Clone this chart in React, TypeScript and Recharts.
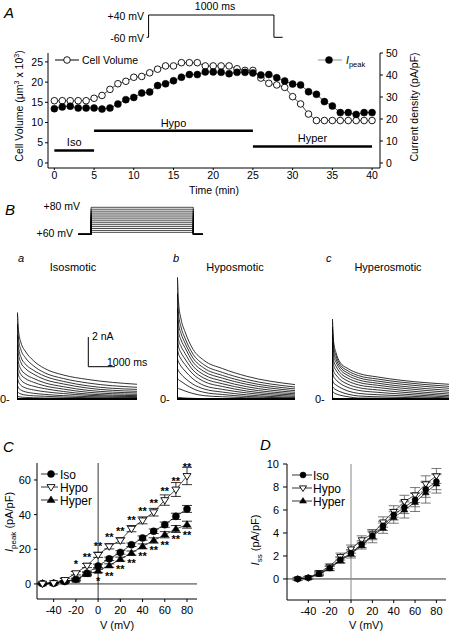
import { ComposedChart, LineChart, Line, XAxis, YAxis, ReferenceLine, ErrorBar, LabelList } from 'recharts';

const FONT = '"Liberation Sans", Arial, sans-serif';

// panel A: time course
const minutes = [0, 1, 2, 3, 4, 5, 6, 7, 8, 9, 10, 11, 12, 13, 14, 15, 16, 17, 18, 19, 20,
    21, 22, 23, 24, 25, 26, 27, 28, 29, 30, 31, 32, 33, 34, 35, 36, 37, 38, 39, 40];
const cellVolume = [15.4, 15.4, 15.4, 15.4, 15.4, 16.0, 16.7, 18.2, 19.6, 20.2, 21.2, 21.4, 22.3, 23.2,
    24.0, 24.0, 24.8, 24.8, 24.8, 24.0, 24.0, 24.0, 24.0, 23.3, 22.9, 22.9, 21.0, 19.7, 19.3, 18.7,
    16.4, 14.6, 12.1, 10.5, 10.5, 10.5, 10.5, 10.5, 10.5, 10.5, 10.5];
const peakDensity = [24.7, 25.5, 25.8, 25.0, 25.0, 25.0, 24.5, 25.0, 26.8, 28.8, 29.8, 31.8, 32.3, 35.2,
    36.0, 37.4, 39.0, 40.2, 40.2, 41.4, 41.4, 41.2, 40.6, 41.2, 41.2, 40.9, 40.0, 40.2, 38.8, 37.3,
    35.9, 35.5, 32.4, 31.2, 27.9, 25.9, 22.9, 22.9, 22.1, 22.9, 22.9];
const periodNames = ['Iso', 'Hypo', 'Hyper'];
const periodStart = [0, 5, 25];
const periodEnd = [5, 25, 40];
const periodLevel = [3.1, 8.0, 4.1];

// voltage protocols
const pulseATime = [-15, 0, 0, 1000, 1000, 1070];
const pulseAVolt = [-60, -60, 40, 40, -60, -60];
const pulseBTime = [-500, 0, 0, 4000, 4000, 4380];
const pulseBInStep = [false, false, true, true, false, false];
const holdingV = -60;
const stepLevels = [-50, -40, -30, -20, -10, 0, 10, 20, 30, 40, 50, 60, 70, 80];

// current traces (nA), sampled at traceTime (s)
const traceTime = [0, 0.01, 0.06, 0.15, 0.3, 0.6, 1.0, 1.7, 2.6, 4.4];
const isoTraces = [
    [0, 5.4, 4.2, 3.5, 3.0, 2.4, 1.92, 1.5, 1.22, 0.92],
    [0, 4.7, 3.7, 3.05, 2.6, 2.08, 1.65, 1.28, 1.0, 0.73],
    [0, 4.0, 3.2, 2.6, 2.2, 1.8, 1.44, 1.1, 0.82, 0.6],
    [0, 3.4, 2.75, 2.25, 1.92, 1.56, 1.23, 0.94, 0.68, 0.48],
    [0, 2.8, 2.25, 1.85, 1.57, 1.29, 1.02, 0.77, 0.54, 0.38],
    [0, 2.3, 1.85, 1.52, 1.29, 1.05, 0.83, 0.62, 0.42, 0.29],
    [0, 1.8, 1.45, 1.18, 0.98, 0.8, 0.65, 0.47, 0.31, 0.21],
    [0, 1.3, 1.05, 0.85, 0.7, 0.57, 0.46, 0.34, 0.23, 0.15],
    [0, 0.85, 0.68, 0.55, 0.45, 0.36, 0.29, 0.21, 0.15, 0.1],
    [0, 0.45, 0.38, 0.31, 0.25, 0.2, 0.17, 0.12, 0.08, 0.06],
    [0, 0.18, 0.15, 0.12, 0.1, 0.08, 0.06, 0.05, 0.04, 0.02],
    [0, 0.05, 0.04, 0.03, 0.02, 0.01, 0, 0, 0, 0],
];
const hypoTraces = [
    [0, 7.6, 6.0, 5.0, 4.2, 3.1, 2.42, 1.9, 1.42, 0.9],
    [0, 6.6, 5.3, 4.5, 3.8, 2.8, 2.15, 1.66, 1.22, 0.75],
    [0, 5.7, 4.7, 4.1, 3.5, 2.55, 1.94, 1.47, 1.06, 0.63],
    [0, 5.0, 4.2, 3.7, 3.2, 2.3, 1.73, 1.3, 0.92, 0.52],
    [0, 4.3, 3.7, 3.3, 2.85, 2.05, 1.52, 1.12, 0.77, 0.42],
    [0, 3.7, 3.25, 2.9, 2.5, 1.8, 1.31, 0.95, 0.63, 0.33],
    [0, 3.1, 2.8, 2.5, 2.15, 1.55, 1.1, 0.78, 0.5, 0.25],
    [0, 2.5, 2.3, 2.05, 1.75, 1.25, 0.85, 0.6, 0.38, 0.17],
    [0, 1.9, 1.75, 1.55, 1.3, 0.92, 0.63, 0.43, 0.26, 0.1],
    [0, 1.3, 1.2, 1.1, 0.93, 0.64, 0.42, 0.28, 0.16, 0.06],
    [0, 0.7, 0.65, 0.6, 0.5, 0.34, 0.21, 0.14, 0.08, 0.02],
    [0, 0.1, 0.1, 0.08, 0.06, 0.04, 0.02, 0.01, 0, 0],
];
const hyperTraces = [
    [0, 5.0, 3.6, 2.9, 2.3, 1.9, 1.6, 1.38, 1.17, 0.92],
    [0, 4.5, 3.3, 2.7, 2.17, 1.76, 1.46, 1.25, 1.05, 0.79],
    [0, 4.0, 3.0, 2.5, 2.02, 1.62, 1.33, 1.12, 0.93, 0.67],
    [0, 3.5, 2.7, 2.3, 1.86, 1.47, 1.19, 0.99, 0.8, 0.54],
    [0, 3.0, 2.4, 2.05, 1.66, 1.3, 1.04, 0.86, 0.68, 0.42],
    [0, 2.6, 2.1, 1.8, 1.46, 1.12, 0.88, 0.72, 0.55, 0.31],
    [0, 2.1, 1.75, 1.5, 1.22, 0.92, 0.71, 0.57, 0.43, 0.21],
    [0, 1.7, 1.4, 1.2, 0.98, 0.72, 0.54, 0.42, 0.31, 0.13],
    [0, 1.2, 1.0, 0.88, 0.72, 0.5, 0.35, 0.27, 0.2, 0.06],
    [0, 0.8, 0.68, 0.58, 0.46, 0.3, 0.19, 0.14, 0.1, 0.02],
    [0, 0.5, 0.4, 0.32, 0.24, 0.14, 0.06, 0.05, 0.04, 0],
    [0, 0.05, 0.04, 0.03, 0.02, 0.01, 0, 0, 0, 0],
];

// panels C and D: I-V relations
const voltages = [-50, -40, -30, -20, -10, 0, 10, 20, 30, 40, 50, 60, 70, 80];
const isoPeak = [0.2, 0.4, 1.4, 2.7, 6.2, 10.4, 14.5, 18.2, 22.6, 26.5, 30.4, 34.2, 39.0, 43.3];
const hypoPeak = [0.2, 0.5, 2.3, 6.2, 10.6, 16.8, 21.7, 25.1, 31.9, 36.7, 41.4, 48.4, 54.5, 62.3];
const hyperPeak = [0.2, 0.4, 1.4, 2.3, 5.6, 7.5, 10.6, 14.3, 17.8, 21.7, 25.1, 28.4, 31.7, 34.2];
const isoPeakErr = [0.3, 0.3, 0.5, 0.6, 0.8, 1.0, 1.0, 1.0, 1.0, 1.2, 1.3, 1.5, 1.8, 2.0];
const hypoPeakErr = [0.3, 0.4, 0.8, 1.0, 1.2, 1.5, 1.5, 1.6, 1.8, 2.0, 2.2, 3.0, 4.0, 5.0];
const hyperPeakErr = [0.3, 0.3, 0.5, 0.6, 0.8, 1.0, 1.0, 1.2, 1.2, 1.4, 1.5, 1.8, 2.0, 2.0];
const hypoSig = ['', '', '', '*', '**', '**', '**', '**', '**', '**', '**', '**', '**', '**'];
const hyperSig = ['', '', '', '', '', '*', '**', '**', '**', '**', '**', '**', '**', '**'];

const isoSS = [0, 0.1, 0.46, 0.95, 1.68, 2.25, 3.03, 3.76, 4.62, 5.58, 6.24, 6.88, 7.8, 8.47];
const hypoSS = [0, 0.1, 0.55, 1.1, 1.95, 2.6, 3.4, 3.9, 4.95, 5.87, 6.73, 7.3, 8.27, 8.96];
const hyperSS = [0, 0.1, 0.4, 0.9, 1.6, 2.17, 2.9, 3.7, 4.42, 5.35, 6.0, 6.67, 7.5, 8.27];
const isoSSErr = [0.1, 0.1, 0.15, 0.2, 0.25, 0.3, 0.3, 0.35, 0.4, 0.45, 0.55, 0.6, 0.7, 0.7];
const hypoSSErr = [0.1, 0.1, 0.15, 0.2, 0.3, 0.35, 0.35, 0.4, 0.45, 0.5, 0.55, 0.65, 0.7, 0.65];
const hyperSSErr = [0.1, 0.1, 0.12, 0.18, 0.25, 0.35, 0.3, 0.55, 0.45, 0.5, 0.7, 0.8, 0.9, 0.8];

const timeTable = minutes.map((t, i) => ({ t, vol: cellVolume[i], ipeak: peakDensity[i] }));
const pulseATable = pulseATime.map((t, i) => ({ t, v: pulseAVolt[i] }));
const pulseBTable = pulseBTime.map((t, i) => {
    const row: any = { t };
    stepLevels.forEach((lv, k) => { row[`v${k}`] = pulseBInStep[i] ? lv : holdingV; });
    return row;
});
const traceTable = (traces: number[][]) => traceTime.map((t, i) => {
    const row: any = { t };
    traces.forEach((tr, k) => { row[`s${k}`] = tr[i]; });
    return row;
});
const peakTable = voltages.map((v, i) => ({
    v, iso: isoPeak[i], hypo: hypoPeak[i], hyper: hyperPeak[i],
    isoErr: isoPeakErr[i], hypoErr: hypoPeakErr[i], hyperErr: hyperPeakErr[i],
    hypoSig: hypoSig[i], hyperSig: hyperSig[i],
}));
const ssTable = voltages.map((v, i) => ({
    v, iso: isoSS[i], hypo: hypoSS[i], hyper: hyperSS[i],
    isoErr: isoSSErr[i], hypoErr: hypoSSErr[i], hyperErr: hyperSSErr[i],
}));

// markers
const filledCircle = (r: number) => (p: any) =>
    <circle key={`fc${p.index}`} cx={p.cx} cy={p.cy} r={r} fill="#000" stroke="#000" strokeWidth={0.5} />;
const openCircle = (r: number) => (p: any) =>
    <circle key={`oc${p.index}`} cx={p.cx} cy={p.cy} r={r} fill="#fff" stroke="#000" strokeWidth={0.9} />;
const openDown = (s: number) => (p: any) =>
    <path key={`od${p.index}`} d={`M${p.cx - s},${p.cy - s * 0.6}L${p.cx + s},${p.cy - s * 0.6}L${p.cx},${p.cy + s}Z`}
        fill="#fff" stroke="#000" strokeWidth={0.9} />;
const filledUp = (s: number) => (p: any) =>
    <path key={`fu${p.index}`} d={`M${p.cx - s},${p.cy + s * 0.6}L${p.cx + s},${p.cy + s * 0.6}L${p.cx},${p.cy - s}Z`}
        fill="#000" stroke="#000" strokeWidth={0.5} />;

// significance stars, drawn in black
const star = (x: number, y: number, value: string, key: string) =>
    <text key={key} x={x} y={y} textAnchor="middle" fontSize={11} fontWeight={700}
        style={{ fill: '#000' }} fontFamily={FONT}>{value}</text>;
const sigAbove = (p: any) => p.value ? star(p.x, p.y - 5, p.value, `sa${p.index}`) : null;
const sigBelow = (p: any) => p.value ? star(p.x, p.y + 14, p.value, `sb${p.index}`) : null;

const tick = (size: number) => ({ fontSize: size, fill: '#000', fontFamily: FONT });
const at = (left: number, top: number): React.CSSProperties => ({ position: 'absolute', left, top });

function TracePanel({ traces, left, width }: { traces: number[][], left: number, width: number }) {
    return <div style={at(left, 271)}>
        <LineChart width={width} height={130} data={traceTable(traces)} margin={{ top: 0, right: 0, bottom: 0, left: 0 }}>
            <XAxis type="number" dataKey="t" domain={[0, 4.4]} hide />
            <YAxis type="number" domain={[-0.125, 8]} hide />
            <ReferenceLine y={0} stroke="#000" strokeWidth={1.8} />
            {traces.map((_, k) => (
                <Line key={k} dataKey={`s${k}`} type="monotone" stroke="#000" strokeWidth={0.8} dot={false} isAnimationActive={false} />
            ))}
        </LineChart>
    </div>;
}

function IVLegend({ x0, x1, xm, xt, ys, r, s }: { x0: number, x1: number, xm: number, xt: number, ys: number[], r: number, s: number }) {
    const labels = ['Iso', 'Hypo', 'Hyper'];
    return <g>
        {ys.map((y, i) => <line key={`l${i}`} x1={x0} x2={x1} y1={y} y2={y} stroke="#000" strokeWidth={0.8} />)}
        {filledCircle(r)({ cx: xm, cy: ys[0], index: 0 })}
        {openDown(s)({ cx: xm, cy: ys[1], index: 1 })}
        {filledUp(s)({ cx: xm, cy: ys[2], index: 2 })}
        {ys.map((y, i) => <text key={`t${i}`} x={xt} y={y + 4.5} fontSize={12}>{labels[i]}</text>)}
    </g>;
}

export default function App() {
    return <div style={{ position: 'absolute', left: 0, top: 0, width: 454, height: 632, background: '#fff', fontFamily: FONT }}>
        {/* A: protocol */}
        <div style={at(140, 10)}>
            <LineChart width={150} height={33} data={pulseATable} margin={{ top: 5, right: 7.3, bottom: 5.7, left: 6.7 }}>
                <XAxis type="number" dataKey="t" domain={[-15, 1070]} hide />
                <YAxis type="number" domain={[-60, 40]} hide />
                <Line dataKey="v" type="linear" stroke="#000" strokeWidth={1} dot={false} isAnimationActive={false} />
            </LineChart>
        </div>

        {/* A: time course */}
        <div style={at(0, 0)}>
            <ComposedChart width={454} height={200} data={timeTable} margin={{ top: 53, right: 34, bottom: 12, left: 8 }}>
                <XAxis type="number" dataKey="t" domain={[-0.8, 41]} ticks={[0, 5, 10, 15, 20, 25, 30, 35, 40]}
                    height={20} tickSize={2} tickMargin={2} stroke="#000" tick={tick(10.5)} />
                <YAxis yAxisId="vol" type="number" domain={[-1.24, 27.2]} ticks={[0, 5, 10, 15, 20, 25]}
                    width={40} tickSize={3} tickMargin={2} stroke="#000" tick={tick(10.5)} />
                <YAxis yAxisId="cur" orientation="right" type="number" domain={[-2.27, 50]} ticks={[0, 10, 20, 30, 40, 50]}
                    width={40} tickSize={3} tickMargin={3} stroke="#000" tick={tick(10.5)} />
                {periodNames.map((name, i) => (
                    <ReferenceLine key={name} yAxisId="vol" stroke="#000" strokeWidth={2.5}
                        segment={[{ x: periodStart[i], y: periodLevel[i] }, { x: periodEnd[i], y: periodLevel[i] }]}
                        label={{ value: name, position: 'top', offset: 4, fill: '#000', fontSize: 11, fontFamily: FONT }} />
                ))}
                <Line yAxisId="vol" dataKey="vol" stroke="#000" strokeWidth={0.7} dot={openCircle(3.3)} isAnimationActive={false} />
                <Line yAxisId="cur" dataKey="ipeak" stroke="#000" strokeWidth={0.7} dot={filledCircle(3.5)} isAnimationActive={false} />
            </ComposedChart>
        </div>

        {/* B: protocol */}
        <div style={at(72, 200)}>
            <LineChart width={138} height={40} data={pulseBTable} margin={{ top: 7.3, right: 7, bottom: 5.7, left: 6.3 }}>
                <XAxis type="number" dataKey="t" domain={[-500, 4380]} hide />
                <YAxis type="number" domain={[-60, 80]} hide />
                {stepLevels.map((_, k) => (
                    <Line key={k} dataKey={`v${k}`} type="linear" stroke="#000" strokeWidth={0.7} dot={false} isAnimationActive={false} />
                ))}
            </LineChart>
        </div>

        {/* B: current families */}
        <TracePanel traces={isoTraces} left={17} width={120} />
        <TracePanel traces={hypoTraces} left={177} width={118} />
        <TracePanel traces={hyperTraces} left={332} width={117} />

        {/* C: peak current density */}
        <div style={at(0, 420)}>
            <LineChart width={230} height={212} data={peakTable} margin={{ top: 43, right: 33, bottom: 13, left: 7 }}>
                <XAxis type="number" dataKey="v" domain={[-55, 89]} ticks={[-40, -20, 0, 20, 40, 60, 80]}
                    height={20} tickSize={3} tickMargin={4} stroke="#000" tick={tick(11)} />
                <YAxis type="number" domain={[-8.7, 69.8]} ticks={[0, 20, 40, 60]}
                    width={30} tickSize={3} tickMargin={3} stroke="#000" tick={tick(11)} />
                <ReferenceLine y={0} stroke="#000" strokeWidth={0.8} />
                <ReferenceLine x={0} stroke="#000" strokeWidth={0.8} />
                <Line dataKey="hyper" stroke="#000" strokeWidth={0.7} dot={filledUp(4)} isAnimationActive={false}>
                    <ErrorBar dataKey="hyperErr" width={5} stroke="#000" strokeWidth={0.8} direction="y" />
                    <LabelList dataKey="hyperSig" content={sigBelow} />
                </Line>
                <Line dataKey="iso" stroke="#000" strokeWidth={0.7} dot={filledCircle(3.5)} isAnimationActive={false}>
                    <ErrorBar dataKey="isoErr" width={5} stroke="#000" strokeWidth={0.8} direction="y" />
                </Line>
                <Line dataKey="hypo" stroke="#000" strokeWidth={0.7} dot={openDown(4)} isAnimationActive={false}>
                    <ErrorBar dataKey="hypoErr" width={5} stroke="#000" strokeWidth={0.8} direction="y" />
                    <LabelList dataKey="hypoSig" content={sigAbove} />
                </Line>
            </LineChart>
        </div>

        {/* D: steady-state current density */}
        <div style={at(225, 420)}>
            <LineChart width={229} height={212} data={ssTable} margin={{ top: 44, right: 8, bottom: 12, left: 32 }}>
                <XAxis type="number" dataKey="v" domain={[-60, 89]} ticks={[-40, -20, 0, 20, 40, 60, 80]}
                    height={20} tickSize={3} tickMargin={4} stroke="#000" tick={tick(11)} />
                <YAxis type="number" domain={[-1.83, 10]} ticks={[0, 2, 4, 6, 8, 10]}
                    width={30} tickSize={4} tickMargin={4} stroke="#000" tick={tick(11)} />
                <ReferenceLine y={0} stroke="#000" strokeWidth={0.8} />
                <ReferenceLine x={0} stroke="#888" strokeWidth={1} />
                <Line dataKey="hyper" stroke="#000" strokeWidth={0.7} dot={filledUp(3.5)} isAnimationActive={false}>
                    <ErrorBar dataKey="hyperErr" width={5} stroke="#555" strokeWidth={0.8} direction="y" />
                </Line>
                <Line dataKey="hypo" stroke="#000" strokeWidth={0.7} dot={openDown(3.5)} isAnimationActive={false}>
                    <ErrorBar dataKey="hypoErr" width={5} stroke="#555" strokeWidth={0.8} direction="y" />
                </Line>
                <Line dataKey="iso" stroke="#000" strokeWidth={0.7} dot={filledCircle(3)} isAnimationActive={false}>
                    <ErrorBar dataKey="isoErr" width={5} stroke="#555" strokeWidth={0.8} direction="y" />
                </Line>
            </LineChart>
        </div>

        {/* annotations */}
        <svg width={454} height={632} style={{ position: 'absolute', left: 0, top: 0, pointerEvents: 'none' }}
            fontFamily={FONT} fill="#000">
            <text x={4} y={18} fontSize={15} fontStyle="italic">A</text>
            <text x={215} y={10} fontSize={10.5} textAnchor="middle">1000 ms</text>
            <text x={144} y={20} fontSize={10.5} textAnchor="end">+40 mV</text>
            <text x={144} y={42} fontSize={10.5} textAnchor="end">-60 mV</text>

            <line x1={55} x2={79} y1={60} y2={60} stroke="#000" strokeWidth={1} />
            {openCircle(3.3)({ cx: 67, cy: 60, index: 0 })}
            <text x={82} y={64} fontSize={10.5}>Cell Volume</text>
            <line x1={318} x2={342} y1={60} y2={60} stroke="#777" strokeWidth={0.8} />
            {filledCircle(3.5)({ cx: 329, cy: 60, index: 0 })}
            <text x={346} y={64} fontSize={10.5}><tspan fontStyle="italic">I</tspan><tspan fontSize={7.5} dy={3}>peak</tspan></text>

            <text transform="rotate(-90 23 106)" x={23} y={106} fontSize={10.5} textAnchor="middle">
                Cell Volume (μm<tspan fontSize={7} dy={-4}>3</tspan><tspan dy={4}> x 10</tspan><tspan fontSize={7} dy={-4}>3</tspan><tspan dy={4}>)</tspan>
            </text>
            <text transform="rotate(-90 418 107)" x={418} y={107} fontSize={10.5} textAnchor="middle">Current density (pA/pF)</text>
            <text x={214} y={194} fontSize={10.5} textAnchor="middle">Time (min)</text>

            <text x={5} y={215} fontSize={15} fontStyle="italic">B</text>
            <text x={80} y={210} fontSize={10.5} textAnchor="end">+80 mV</text>
            <text x={73} y={237} fontSize={10.5} textAnchor="end">+60 mV</text>
            <text x={18} y={262} fontSize={11} fontStyle="italic">a</text>
            <text x={73} y={271} fontSize={11} textAnchor="middle">Isosmotic</text>
            <text x={173} y={262} fontSize={11} fontStyle="italic">b</text>
            <text x={235} y={271} fontSize={11} textAnchor="middle">Hyposmotic</text>
            <text x={326} y={262} fontSize={11} fontStyle="italic">c</text>
            <text x={388} y={271} fontSize={11} textAnchor="middle">Hyperosmotic</text>
            <path d="M88.3,337 L88.3,366.7 L115,366.7" fill="none" stroke="#000" strokeWidth={1} />
            <text x={92} y={340} fontSize={10.5}>2 nA</text>
            <text x={107} y={366} fontSize={10.5}>1000 ms</text>
            <text x={0} y={403} fontSize={11}>0-</text>
            <text x={160} y={403} fontSize={11}>0-</text>
            <text x={315} y={403} fontSize={11}>0-</text>

            <text x={3} y={452} fontSize={15} fontStyle="italic">C</text>
            <IVLegend x0={41} x1={58} xm={51} xt={60} ys={[474, 487, 500]} r={3.5} s={4} />
            <text transform="rotate(-90 13 522)" x={13} y={522} fontSize={11} textAnchor="middle">
                <tspan fontStyle="italic">I</tspan><tspan fontSize={8} dy={3}>peak</tspan><tspan dy={-3}> (pA/pF)</tspan>
            </text>
            <text x={117} y={629} fontSize={11} textAnchor="middle">V (mV)</text>

            <text x={260} y={450} fontSize={15} fontStyle="italic">D</text>
            <IVLegend x0={292} x1={312} xm={303} xt={313} ys={[475, 488, 501]} r={3} s={3.5} />
            <text transform="rotate(-90 259 540)" x={259} y={540} fontSize={11} textAnchor="middle">
                <tspan fontStyle="italic">I</tspan><tspan fontSize={8} dy={3}>ss</tspan><tspan dy={-3}> (pA/pF)</tspan>
            </text>
            <text x={366} y={629} fontSize={11} textAnchor="middle">V (mV)</text>
        </svg>
    </div>;
}
